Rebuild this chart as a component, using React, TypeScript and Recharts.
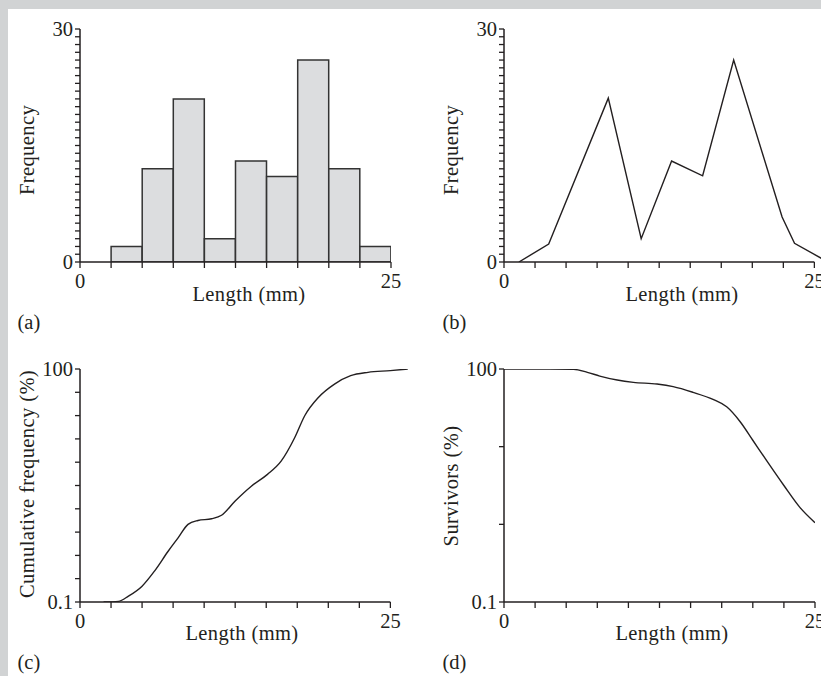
import React from 'react';
import { BarChart, Bar, LineChart, Line, XAxis, YAxis, ReferenceLine } from 'recharts';

const FONT = '"Liberation Serif", "Times New Roman", serif';
const INK = '#231f20';
const FS = 20.5;

// ---- data ----
const lengthTicks = [0, 2.5, 5, 7.5, 10, 12.5, 15, 17.5, 20, 22.5, 25];
const freqTicks = [0, 1, 2, 3, 4, 5, 6, 7, 8, 9, 10, 11, 12, 13, 14, 15, 16, 17, 18, 19, 20, 21, 22, 23, 24, 25, 26, 27, 28, 29, 30];
const binMids = [3.75, 6.25, 8.75, 11.25, 13.75, 16.25, 18.75, 21.25, 23.75];
const binCounts = [2, 12, 21, 3, 13, 11, 26, 12, 2];

const polyX = [1.2, 3.6, 8.4, 11.05, 13.5, 16.0, 18.5, 22.4, 23.4, 26.1];
const polyY = [0, 2.3, 21.1, 3.0, 13.0, 11.1, 26.0, 5.8, 2.4, 0];

const cumTicks = [0.1, 0.2, 0.398, 0.794, 1.585, 3.162, 6.31, 12.59, 25.12, 50.12, 100];
const cumX = [1.9, 3.1, 3.9, 5.0, 6.0, 7.1, 7.9, 8.7, 9.5, 10.6, 11.4, 12.5, 13.8, 15.1, 16.2, 17.3, 18.1, 19.2, 20.5, 21.8, 23.2, 25.0, 26.4];
const cumY = [0.1, 0.102, 0.119, 0.16, 0.25, 0.45, 0.67, 1.0, 1.12, 1.18, 1.31, 2.0, 3.1, 4.4, 6.5, 13.1, 25, 43, 64, 82, 90.6, 95.3, 100];

const survTicks = [0.1, 1, 10, 100];
const survX = [0, 2.4, 3.7, 5.6, 6.7, 7.7, 9.1, 10.4, 12.3, 13.6, 15.2, 16.8, 17.9, 19.0, 20.0, 21.1, 22.5, 23.8, 25.0];
const survY = [100, 100, 100, 99, 90.6, 81.1, 72.1, 67.3, 64.0, 59.2, 50.0, 40.6, 32.6, 20.8, 12.1, 6.65, 3.16, 1.64, 1.05];

const histData = binMids.map((x, i) => ({ x, n: binCounts[i] }));
const polyData = polyX.map((x, i) => ({ x, n: polyY[i] }));
const cumData = cumX.map((x, i) => ({ x, p: cumY[i] }));
const survData = survX.map((x, i) => ({ x, p: survY[i] }));

const tickStyle = { fontFamily: FONT, fontSize: FS, fill: INK };
const axisLine = { stroke: INK, strokeWidth: 1.5 };
const tickLine = { stroke: INK, strokeWidth: 1.3 };

const endsOnly = (a: number, b: number) => (v: number) => (v === a || v === b ? String(v) : '');

const Y_TICK = 5;
const Y_GAP = 2;

// y tick: its own tick mark, plus a label only at the two ends
const makeYTick = (a: number, b: number) => (props: any) => {
  const { x, y, payload } = props;
  const v = payload.value;
  const show = v === a || v === b;
  return (
    <g>
      <line x1={x + Y_GAP} x2={x + Y_GAP + Y_TICK} y1={y} y2={y} stroke={INK} strokeWidth={1.3} />
      {show && (
        <text x={x} y={y} dy="0.355em" textAnchor="end" fontFamily={FONT} fontSize={FS} fill={INK}>
          {String(v)}
        </text>
      )}
    </g>
  );
};

const xAxisProps = {
  dataKey: 'x',
  type: 'number' as const,
  ticks: lengthTicks,
  interval: 0 as const,
  tick: tickStyle,
  tickFormatter: endsOnly(0, 25),
  tickSize: 6,
  tickMargin: 5,
  tickLine,
  height: 30,
  allowDataOverflow: true,
};

function Title({ x, y, text, rotate }: { x: number; y: number; text: string; rotate?: boolean }) {
  return (
    <text x={x} y={y} textAnchor="middle" transform={rotate ? `rotate(-90 ${x} ${y})` : undefined}
      fontFamily={FONT} fontSize={FS} letterSpacing={0.4} fill={INK}>
      {text}
    </text>
  );
}

export default function App() {
  return (
    <div style={{ position: 'fixed', left: 0, top: 0, width: 821, height: 676, background: '#d1d3d4', overflow: 'hidden' }}>
      <div style={{ position: 'absolute', left: 8, top: 9, right: 0, bottom: 0, background: '#ffffff' }} />

      {/* (a) histogram */}
      <div style={{ position: 'absolute', left: 0, top: 0 }}>
        <BarChart width={411} height={292} data={histData} margin={{ top: 29, right: 20, bottom: 0, left: 0 }} barCategoryGap={0} barGap={0}>
          <XAxis {...xAxisProps} domain={[0, 25]} axisLine={axisLine} />
          <YAxis type="number" domain={[0, 30]} ticks={freqTicks} interval={0} tick={makeYTick(0, 30)} tickLine={false}
            tickSize={Y_TICK} tickMargin={Y_GAP} axisLine={axisLine} width={80} allowDataOverflow />
          <Bar dataKey="n" fill="#dcdddf" stroke="#333333" strokeWidth={1.5} isAnimationActive={false} />
        </BarChart>
      </div>

      {/* (b) frequency polygon */}
      <div style={{ position: 'absolute', left: 424, top: 0 }}>
        <LineChart width={420} height={292} data={polyData} margin={{ top: 29, right: 11, bottom: 0, left: 0 }}>
          <XAxis {...xAxisProps} domain={[0, 26.5]} axisLine={false} />
          <YAxis type="number" domain={[0, 30]} ticks={freqTicks} interval={0} tick={makeYTick(0, 30)} tickLine={false}
            tickSize={Y_TICK} tickMargin={Y_GAP} axisLine={axisLine} width={80} allowDataOverflow />
          <ReferenceLine segment={[{ x: 0, y: 0 }, { x: 25, y: 0 }]} stroke={INK} strokeWidth={1.5} />
          <Line type="linear" dataKey="n" stroke={INK} strokeWidth={1.4} dot={false} isAnimationActive={false} />
        </LineChart>
      </div>

      {/* (c) cumulative frequency */}
      <div style={{ position: 'absolute', left: 0, top: 340 }}>
        <LineChart width={420} height={292} data={cumData} margin={{ top: 29, right: 11, bottom: 0, left: 0 }}>
          <XAxis {...xAxisProps} domain={[0, 26.5]} axisLine={false} />
          <YAxis type="number" scale="log" domain={[0.1, 100]} ticks={cumTicks} interval={0} tick={makeYTick(0.1, 100)} tickLine={false}
            tickSize={Y_TICK} tickMargin={Y_GAP} axisLine={axisLine} width={80} allowDataOverflow />
          <ReferenceLine segment={[{ x: 0, y: 0.1 }, { x: 25, y: 0.1 }]} stroke={INK} strokeWidth={1.5} />
          <Line type="monotone" dataKey="p" stroke={INK} strokeWidth={1.4} dot={false} isAnimationActive={false} />
        </LineChart>
      </div>

      {/* (d) survivors */}
      <div style={{ position: 'absolute', left: 424, top: 340 }}>
        <LineChart width={411} height={292} data={survData} margin={{ top: 29, right: 20, bottom: 0, left: 0 }}>
          <XAxis {...xAxisProps} domain={[0, 25]} axisLine={axisLine} />
          <YAxis type="number" scale="log" domain={[0.1, 100]} ticks={survTicks} interval={0} tick={makeYTick(0.1, 100)} tickLine={false}
            tickSize={Y_TICK} tickMargin={Y_GAP} axisLine={axisLine} width={80} allowDataOverflow />
          <Line type="monotone" dataKey="p" stroke={INK} strokeWidth={1.4} dot={false} isAnimationActive={false} />
        </LineChart>
      </div>

      {/* titles */}
      <svg width={821} height={676} style={{ position: 'absolute', left: 0, top: 0, pointerEvents: 'none' }}>
        <Title x={33.5} y={150} text="Frequency" rotate />
        <Title x={249} y={301} text="Length (mm)" />
        <text x={17.5} y={329} fontFamily={FONT} fontSize={FS} fill={INK}>(a)</text>
        <Title x={458} y={150} text="Frequency" rotate />
        <Title x={682} y={301} text="Length (mm)" />
        <text x={442.5} y={329} fontFamily={FONT} fontSize={FS} fill={INK}>(b)</text>
        <Title x={33.5} y={484} text="Cumulative frequency (%)" rotate />
        <Title x={242} y={640} text="Length (mm)" />
        <text x={17.5} y={669} fontFamily={FONT} fontSize={FS} fill={INK}>(c)</text>
        <Title x={458} y={486} text="Survivors (%)" rotate />
        <Title x={672} y={640} text="Length (mm)" />
        <text x={442.5} y={669} fontFamily={FONT} fontSize={FS} fill={INK}>(d)</text>
      </svg>
    </div>
  );
}
